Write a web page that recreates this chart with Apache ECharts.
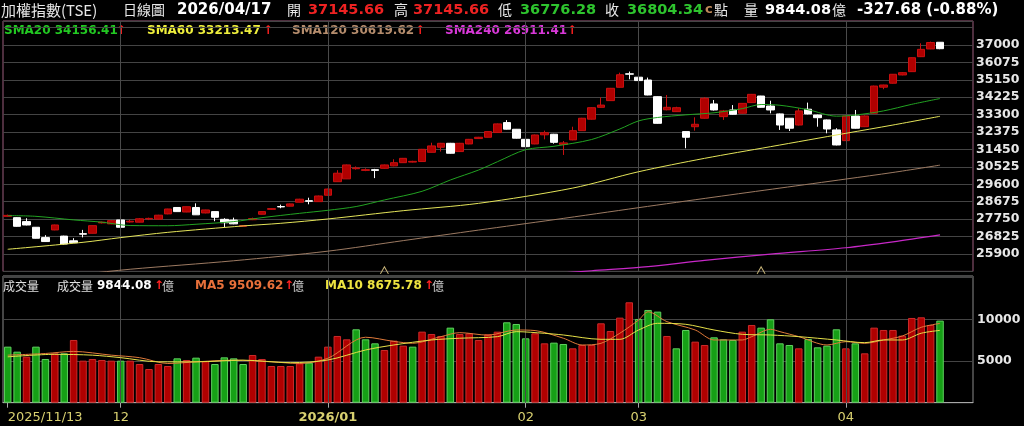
<!DOCTYPE html>
<html><head><meta charset="utf-8">
<script src="https://cdn.jsdelivr.net/npm/echarts@6/dist/echarts.min.js"></script>
<style>html,body{margin:0;padding:0;background:#000;}#c{width:1024px;height:426px;}</style>
</head><body><div id="c"></div>
<script>
// ---- trading days (category axis) ----
const tradingDays = {
  '2025/11': [13,14,17,18,19,20,21,24,25,26,27,28],
  '2025/12': [1,2,3,4,5,8,9,10,11,12,15,16,17,18,19,22,23,24,26,29,30,31],
  '2026/01': [2,5,6,7,8,9,12,13,14,15,16,19,20,21,22,23,26,27,28,29,30],
  '2026/02': [2,3,4,5,6,9,10,11,23,24,25,26],
  '2026/03': [2,3,4,5,6,9,10,11,12,13,16,17,18,19,20,23,24,25,26,27,30,31],
  '2026/04': [1,2,7,8,9,10,13,14,15,16,17]
};
const xTickLabels = ['2025/11/13','12','2026/01','02','03','04'];
const priceTickLabels = [25900,26825,27750,28675,29600,30525,31450,32375,33300,34225,35150,36075,37000];
const volTickLabels = [5000,10000];

// ---- OHLC ----
const open = [27900,27830,27620,27320,26770,27177,26850,26600,26980,27000,
27550,27500,27710,27600,27590,27760,27750,28030,28370,28130,
28370,28080,28150,27740,27700,27370,27720,28010,28270,28420,
28440,28650,28730,28680,29020,29740,29890,30430,30340,30380,
30450,30580,30750,30780,30810,31300,31570,31780,31340,31745,
32030,32100,32350,32880,32525,31990,31745,32230,32260,31720,
31960,32450,33060,33690,34045,34755,35470,35290,35140,34255,
33560,33460,32400,32660,33110,33870,33195,33550,33375,33940,
34290,33760,33340,33110,32750,33590,33280,33020,32490,31920,
33230,32660,33375,34760,34970,35410,35585,36380,36790,37145.66];
const close = [27950,27370,27440,26735,26560,27442,26430,26500,26950,27405,
27590,27670,27320,27640,27770,27790,27960,28290,28150,28410,
27980,28240,27850,27560,27500,27410,27780,28150,28310,28400,
28560,28810,28700,28980,29350,30190,30630,30470,30380,30340,
30630,30750,30980,30820,31460,31640,31780,31250,31780,31990,
32100,32400,32810,32530,32050,31600,32220,32340,31830,31800,
32450,33110,33670,33810,34700,35420,35450,35110,34345,32840,
33690,33670,32100,32790,34170,33550,33500,33320,33900,34380,
33690,33550,32750,32580,33500,33340,33140,32540,31690,33230,
32580,33230,34820,34875,35445,35530,36325,36770,37132.02,36804.34];
const low = [27880,27350,27420,26720,26540,27160,26400,26480,26780,26990,
27520,27480,27300,27570,27580,27700,27730,28010,28140,28120,
27970,28060,27640,27330,27480,27350,27700,28000,28250,28330,
28430,28640,28540,28670,29000,29730,29880,30380,30300,29930,
30430,30560,30740,30760,30800,31290,31340,31230,31320,31730,
32010,32090,32340,32510,32030,31340,31730,31990,31760,31160,
31940,32440,33040,33680,34030,34740,35180,34650,34330,32820,
33530,33440,31515,32450,33090,33520,33020,33300,33360,33920,
33670,33370,32490,32430,32730,33320,32660,32310,31670,31900,
32560,32640,33360,34650,34950,35390,35570,36360,36780,36776.28];
const high = [27990,27850,27800,27330,26900,27460,26870,26740,27180,27420,
27620,27700,27720,27720,27810,27830,27980,28300,28380,28420,
28590,28250,28160,27800,27830,27430,27830,28170,28330,28520,
28580,28830,28890,29000,29370,30350,30650,30550,30450,30420,
30650,30930,31000,30850,31480,31810,31800,31800,31800,32010,
32120,32420,32830,33010,32540,32010,32240,32450,32280,31900,
32660,33130,33690,34220,34720,35530,35590,35320,35270,34270,
34345,33720,32410,33160,34230,34080,33550,33810,33920,34400,
34300,34040,33360,33120,33640,33940,33300,33040,32580,33250,
33550,33260,34840,34890,35460,35560,36340,37090,37180,37145.66];

// ---- volume (億) ----
const volume = [6720,6120,5520,6720,5240,5920,5920,7520,5040,5240,
5120,5040,5040,5040,4640,4040,4640,4400,5320,5120,
5400,5000,4640,5440,5320,4640,5720,5240,4400,4400,
4400,4720,4800,5520,6720,8000,7600,8800,7600,7120,
6320,7440,6840,6720,8520,8240,8000,9000,8240,8320,
7520,8200,8520,9640,9440,7720,8320,7120,7200,7040,
6520,6920,6920,9520,8600,10200,12040,10040,11120,10920,
8000,6520,8720,7320,6920,7840,7600,7520,8520,9320,
9000,10000,7120,6920,6520,7640,6640,6840,8800,6520,
7120,5920,9000,8720,8720,8040,10160,10240,9320,9844.08];
// 1 = close above previous close (red), 0 = below (green)
const volUp = [0,0,1,0,0,1,0,1,1,1, 1,1,0,1,1,1,1,1,0,1,
0,1,0,0,0,0,1,1,1,1, 1,1,0,1,1,1,1,0,0,0,
1,1,1,0,1,1,1,0,1,1, 1,1,1,0,0,0,1,1,0,0,
1,1,1,1,1,1,1,0,0,0, 1,0,0,1,1,0,0,0,1,1,
0,0,0,0,1,0,0,0,0,1, 0,1,1,1,1,1,1,1,1,0];

// ---- moving averages: [bar index, value] ----
const sma20 = [[0,27940],[3,27900],[7,27710],[10,27590],[13,27410],[17,27400],[20,27480],[24,27620],[27,27830],[31,28060],[34,28220],[37,28420],[40,28770],[44,29230],[47,29830],[50,30360],[52,30800],[55,31440],[58,31620],[62,31980],[65,32540],[67,32970],[69,33150],[72,33290],[75,33400],[78,33620],[80,33840],[82,33800],[85,33560],[88,33220],[90,33280],[93,33500],[96,33850],[99,34156.41]];
const sma60 = [[0,26150],[8,26520],[12,26770],[17,27050],[25,27390],[29,27530],[34,27760],[42,28200],[50,28590],[60,29400],[67,30270],[74,30980],[81,31600],[89,32310],[94,32750],[99,33213.47]];
const sma120 = [[4,24650],[8,24830],[13,25090],[24,25540],[34,26050],[42,26610],[50,27170],[58,27720],[67,28360],[75,28920],[82,29400],[89,29880],[94,30230],[99,30619.62]];
const sma240 = [[52,24600],[56,24780],[62,25010],[68,25230],[74,25560],[81,25890],[89,26230],[94,26540],[99,26911.41]];
const volMa5 = [[0,5700],[4,5900],[7,6150],[11,5700],[14,5400],[17,4700],[20,4900],[24,5100],[28,4900],[31,4700],[34,5330],[38,7850],[41,7350],[43,7130],[46,7920],[48,8400],[51,8100],[54,8720],[56,8650],[59,7730],[61,6920],[63,7120],[65,8330],[67,9920],[68,10900],[70,9720],[73,8720],[75,7520],[78,7520],[79,7920],[81,8800],[82,8520],[84,7920],[87,6920],[89,7320],[91,7120],[93,7520],[95,8000],[97,9040],[99,9509.62]];
const volMa10 = [[0,5500],[5,5800],[9,5700],[12,5400],[16,4900],[20,4900],[25,5100],[30,4800],[34,5120],[38,6320],[41,6920],[45,7520],[48,7730],[52,7920],[54,8520],[57,8320],[59,8120],[63,7600],[65,7600],[67,8720],[69,9520],[72,9400],[75,8720],[78,8200],[81,8120],[84,7920],[88,7520],[91,7200],[93,7520],[95,7520],[97,8330],[99,8675.78]];
const markerBars = [40, 80];

// ---- build ----
const dates = [];
Object.keys(tradingDays).forEach(m => tradingDays[m].forEach(d => dates.push(m + '/' + String(d).padStart(2,'0'))));
const monthIdx = [];
dates.forEach((d,i) => { if (i === 0 || d.slice(0,7) !== dates[i-1].slice(0,7)) monthIdx.push(i); });
const categories = dates.concat(['', '', '']);
const candles = open.map((o,i) => [o, close[i], low[i], high[i]]);
const volData = volume.map((v,i) => ({
  value: v,
  itemStyle: volUp[i] ? {color:'#b00000', borderColor:'#cc2a2a', borderWidth:1}
                      : {color:'#16a016', borderColor:'#5fd05f', borderWidth:1}
}));
const vLines = monthIdx.filter(i => i > 0).map(i => ({xAxis: i}));
const markLineCfg = {silent:true, symbol:['none','none'], label:{show:false},
  lineStyle:{color:'#4a4a4a', width:1, type:'solid'}, data: vLines, animation:false};

const chart = echarts.init(document.getElementById('c'), null, {renderer:'canvas'});
const T = (text, x, y, fill, font) => ({type:'text', x, y, style:{text, fill, font, verticalAlign:'middle'}, silent:true});
const num = 'bold 14.5px "DejaVu Sans"';
const cjk = '14px "Noto Sans CJK TC"';
const lg = 'bold 12px "DejaVu Sans"';
const cjk12 = '12px "Noto Sans CJK TC"';
const up = '#ff2020';

chart.setOption({
  backgroundColor:'#000',
  animation:false,
  grid:[
    {left:3, right:51, top:21, height:250.4, show:true, borderColor:'#9c5c7c', borderWidth:1, backgroundColor:'transparent'},
    {left:3, right:51, top:276, bottom:23.3, show:true, borderColor:'#8a8a8a', borderWidth:1, backgroundColor:'transparent'}
  ],
  xAxis:[
    {type:'category', gridIndex:0, data:categories, boundaryGap:true,
     axisLine:{show:false}, axisTick:{show:false}, axisLabel:{show:false}, splitLine:{show:false}},
    {type:'category', gridIndex:1, data:categories, boundaryGap:true,
     axisLine:{show:true, lineStyle:{color:'#a8a8a8'}},
     axisTick:{show:true, alignWithLabel:true, length:5, lineStyle:{color:'#a8a8a8'}, interval:(i)=>monthIdx.includes(i)},
     axisLabel:{show:true, interval:(i)=>monthIdx.includes(i), margin:8, color:'#d8d070', fontSize:13,
       fontFamily:'DejaVu Sans', alignMinLabel:'left',
       formatter:(v,i)=>{const k = monthIdx.indexOf(i); if (k < 0) return ''; const t = xTickLabels[k];
         return /^\d{4}\/\d{2}$/.test(t) ? '{b|'+t+'}' : t;},
       rich:{b:{fontWeight:'bold', color:'#d8d070', fontSize:13, fontFamily:'DejaVu Sans'}}},
     splitLine:{show:false}}
  ],
  yAxis:[
    {type:'value', gridIndex:0, position:'right', min:24975, max:38275, interval:925, scale:true,
     axisLine:{show:false}, axisTick:{show:false},
     splitLine:{show:true, lineStyle:{color:'#444', width:1}},
     axisLabel:{margin:3, color:'#e8e8e8', fontSize:12.5, fontWeight:'bold', fontFamily:'DejaVu Sans',
       formatter:(v)=>priceTickLabels.includes(Math.round(v)) ? String(Math.round(v)) : ''}},
    {type:'value', gridIndex:1, position:'right', min:0, max:15192, interval:5000,
     axisLine:{show:false}, axisTick:{show:false},
     splitLine:{show:true, lineStyle:{color:'#444', width:1}},
     axisLabel:{margin:4, color:'#e8e8e8', fontSize:12.5, fontWeight:'bold', fontFamily:'DejaVu Sans',
       formatter:(v)=>volTickLabels.includes(Math.round(v)) ? String(Math.round(v)) : ''}}
  ],
  series:[
    {type:'candlestick', xAxisIndex:0, yAxisIndex:0, data:candles, barWidth:8, z:3,
     itemStyle:{color:'#b00000', color0:'#ffffff', borderColor:'#c81010', borderColor0:'#ffffff', borderWidth:1},
     markLine:markLineCfg,
     markPoint:{symbol:'path://M0,10L5,0L10,10', symbolSize:[8,7], silent:true, label:{show:false},
       itemStyle:{color:'transparent', borderColor:'#c8b478', borderWidth:1},
       data: markerBars.map(i => ({coord:[i, 25030]}))}},
    {type:'line', xAxisIndex:0, yAxisIndex:0, data:sma20, showSymbol:false, smooth:0.3, z:5, lineStyle:{color:'#22a322', width:1}},
    {type:'line', xAxisIndex:0, yAxisIndex:0, data:sma60, showSymbol:false, smooth:0.3, z:5, lineStyle:{color:'#e4e45a', width:1}},
    {type:'line', xAxisIndex:0, yAxisIndex:0, data:sma120, showSymbol:false, smooth:0.3, z:5, lineStyle:{color:'#9c7a62', width:1}},
    {type:'line', xAxisIndex:0, yAxisIndex:0, data:sma240, showSymbol:false, smooth:0.3, z:5, lineStyle:{color:'#c828c8', width:1.2}},
    {type:'bar', xAxisIndex:1, yAxisIndex:1, data:volData, barWidth:7.5, z:3, markLine:markLineCfg},
    {type:'line', xAxisIndex:1, yAxisIndex:1, data:volMa5, showSymbol:false, smooth:0.3, z:5, lineStyle:{color:'#e07a3a', width:1}},
    {type:'line', xAxisIndex:1, yAxisIndex:1, data:volMa10, showSymbol:false, smooth:0.3, z:5, lineStyle:{color:'#e6e048', width:1}}
  ],
  graphic:[
    T('加權指數(TSE)', 1, 10, '#e8e8e8', '15px "Noto Sans CJK TC"'),
    T('日線圖', 123, 10, '#e8e8e8', cjk),
    T('2026/04/17', 177, 10, '#ffffff', 'bold 15px "DejaVu Sans"'),
    T('開', 287, 10, '#e8e8e8', cjk),
    T('37145.66', 308, 10, '#ee2222', num),
    T('高', 394, 10, '#e8e8e8', cjk),
    T('37145.66', 413, 10, '#ee2222', num),
    T('低', 498, 10, '#e8e8e8', cjk),
    T('36776.28', 520, 10, '#2ec42e', num),
    T('收', 605, 10, '#e8e8e8', cjk),
    T('36804.34', 627, 10, '#2ec42e', num),
    T('c', 705, 10, '#c08a5a', 'bold 13px "DejaVu Sans"'),
    T('點', 714, 10, '#e8e8e8', cjk),
    T('量', 744, 10, '#e8e8e8', cjk),
    T('9844.08', 765, 10, '#ffffff', num),
    T('億', 832, 10, '#e8e8e8', cjk),
    T('-327.68 (-0.88%)', 857, 10, '#ffffff', 'bold 15px "DejaVu Sans"'),

    T('SMA20 34156.41', 4, 31, '#22c822', lg),
    T('↑', 116, 31, up, lg),
    T('SMA60 33213.47', 147, 31, '#eeee3c', lg),
    T('↑', 263, 31, up, lg),
    T('SMA120 30619.62', 292, 31, '#b48c6c', lg),
    T('↑', 415, 31, up, lg),
    T('SMA240 26911.41', 445, 31, '#d838d8', lg),
    T('↑', 567, 31, up, lg),

    T('成交量', 3, 286, '#e0e0e0', cjk12),
    T('成交量', 57, 286, '#e0e0e0', cjk12),
    T('9844.08', 97, 286, '#ffffff', lg),
    T('↑', 154, 286, up, lg),
    T('億', 162, 286, '#c8c8c8', cjk12),
    T('MA5 9509.62', 195, 286, '#e8703a', lg),
    T('↑', 284, 286, up, lg),
    T('億', 292, 286, '#c8c8c8', cjk12),
    T('MA10 8675.78', 325, 286, '#eee440', lg),
    T('↑', 424, 286, up, lg),
    T('億', 432, 286, '#c8c8c8', cjk12)
  ]
});
</script>
</body></html>
